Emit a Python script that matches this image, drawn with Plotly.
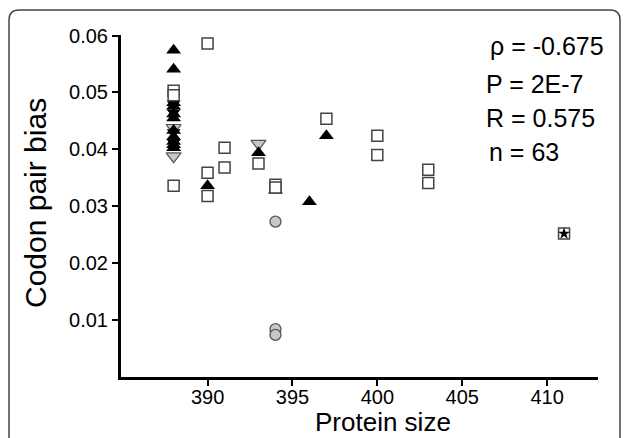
import plotly.graph_objects as go

# Data
sq_x = [388, 388, 388, 390, 390, 390, 391, 391, 393, 394, 394, 397, 400, 400, 403, 403]
sq_y = [0.0503, 0.0495, 0.0336, 0.0586, 0.0359, 0.0318, 0.0403, 0.0368, 0.0375, 0.0338, 0.0333, 0.0454, 0.0424, 0.0390, 0.0364, 0.0341]

tri_x = [388, 388, 388, 388, 388, 388, 388, 388, 388, 388, 388, 390, 393, 394, 396, 397]
tri_y = [0.0574, 0.0541, 0.0482, 0.0476, 0.0462, 0.0455, 0.0433, 0.0422, 0.0414, 0.0408, 0.0403, 0.0336, 0.0394, 0.0328, 0.0308, 0.0424]

tdn_x = [388, 388, 388, 388]
tdn_y = [0.0480, 0.0465, 0.0430, 0.0412]

gtd_x = [388, 388, 393]
gtd_y = [0.0438, 0.0388, 0.0410]

circ_x = [394, 394, 394]
circ_y = [0.0273, 0.0084, 0.0074]

star_x = [411]
star_y = [0.0252]

stats = ["\u03c1 = -0.675", "P = 2E-7", "R = 0.575", "n = 63"]
y_ticks = [0.01, 0.02, 0.03, 0.04, 0.05, 0.06]
x_ticks = [390, 395, 400, 405, 410]

FONT = "Liberation Sans, Arial"
PL, PR, PT, PB = 121, 598, 35, 377  # plot area in pixels
def px2x(p): return (p - PL) / (PR - PL)
def py2y(p): return (PB - p) / (PB - PT)

fig = go.Figure()
fig.add_trace(go.Scatter(x=circ_x, y=circ_y, mode="markers",
    marker=dict(symbol="circle", size=11, color="#c8c8c8", line=dict(color="#555555", width=1.3))))
fig.add_trace(go.Scatter(x=gtd_x, y=gtd_y, mode="markers",
    marker=dict(symbol="triangle-down", size=13, color="#c8c8c8", line=dict(color="#555555", width=1.2))))
fig.add_trace(go.Scatter(x=tdn_x, y=tdn_y, mode="markers",
    marker=dict(symbol="triangle-down", size=12, color="black", line=dict(width=0))))
fig.add_trace(go.Scatter(x=tri_x, y=tri_y, mode="markers",
    marker=dict(symbol="triangle-up", size=13, color="black", line=dict(width=0))))
fig.add_trace(go.Scatter(x=sq_x, y=sq_y, mode="markers",
    marker=dict(symbol="square", size=11, color="white", line=dict(color="#444444", width=1.5))))
fig.add_trace(go.Scatter(x=star_x, y=star_y, mode="markers",
    marker=dict(symbol="square", size=11, color="white", line=dict(color="#444444", width=1.5))))
fig.add_trace(go.Scatter(x=star_x, y=star_y, mode="markers",
    marker=dict(symbol="star", size=9, color="black", line=dict(width=0))))

ann_y = [46, 84, 118, 152]
ann_x = [488, 484, 484, 487]
for t, px, py in zip(stats, ann_x, ann_y):
    fig.add_annotation(text=t, xref="paper", yref="paper",
                       x=px2x(px), y=py2y(py),
                       xanchor="left", yanchor="middle", showarrow=False,
                       font=dict(family=FONT, size=25, color="black"))

# axis titles
fig.add_annotation(text="Protein size", xref="paper", yref="paper",
                   x=px2x(383), y=py2y(422), xanchor="center", yanchor="middle",
                   showarrow=False, font=dict(family=FONT, size=26, color="black"))
fig.add_annotation(text="Codon pair bias", xref="paper", yref="paper", textangle=-90,
                   x=px2x(35), y=py2y(203), xanchor="center", yanchor="middle",
                   showarrow=False, font=dict(family=FONT, size=30, color="black"))

# rounded frame around the figure (decoration)
L, R, T, B, r = 9, 620, 10, 445, 10
path = (f"M {px2x(L)},{py2y(B)} L {px2x(L)},{py2y(T + r)} "
        f"Q {px2x(L)},{py2y(T)} {px2x(L + r)},{py2y(T)} "
        f"L {px2x(R - r)},{py2y(T)} Q {px2x(R)},{py2y(T)} {px2x(R)},{py2y(T + r)} "
        f"L {px2x(R)},{py2y(B)}")
fig.add_shape(type="path", path=path, xref="paper", yref="paper",
              line=dict(color="#444444", width=1.5), layer="below")

fig.update_layout(
    width=627, height=438,
    margin=dict(l=PL, r=627 - PR, t=PT, b=438 - PB, autoexpand=False),
    paper_bgcolor="white", plot_bgcolor="white",
    showlegend=False,
    font=dict(family=FONT, color="black"),
)
fig.update_xaxes(range=[384.9, 413], tickvals=x_ticks, ticks="outside", ticklen=6, tickwidth=2,
                 tickcolor="black", showline=True, linecolor="black", linewidth=3,
                 showgrid=False, zeroline=False, automargin=False, ticklabelstandoff=-6,
                 tickfont=dict(size=20, color="black"))
fig.update_yaxes(range=[0, 0.0601], tickvals=y_ticks, ticktext=[f"{v:.2f}" for v in y_ticks],
                 ticks="outside", ticklen=6, tickwidth=2,
                 tickcolor="black", showline=True, linecolor="black", linewidth=3,
                 showgrid=False, zeroline=False, automargin=False,
                 tickfont=dict(size=20, color="black"))

fig.write_html("out.html", config={"displayModeBar": False},
               post_script="document.body.style.margin='0';")
